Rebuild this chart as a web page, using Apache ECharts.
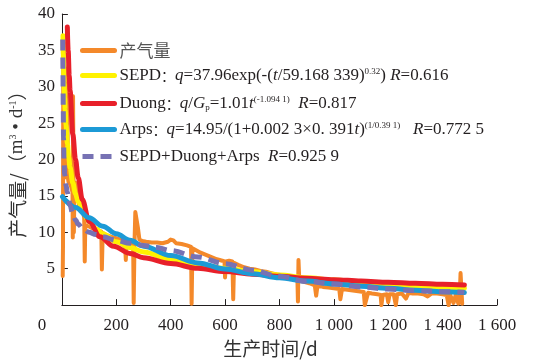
<!DOCTYPE html>
<html>
<head>
<meta charset="utf-8">
<script src="https://cdn.jsdelivr.net/npm/echarts@6/dist/echarts.min.js"></script>
<style>html,body{margin:0;padding:0;background:#fff}#c{width:548px;height:363px}</style>
</head>
<body>
<div id="c"></div>
<script>
// Measured production (days, rate)
const prodDays = [3,4,5,6,7,8,9,10,11,12,13,14,16,18,20,22,24,28,32,36,39,40,41,43,44,46,50,55,60,63,70,78,82,84,86,92,100,110,120,132,145,147,150,165,180,200,215,232,235,238,250,262,264,267,270,276,280,285,295,310,330,350,370,390,400,410,420,440,460,475,477,480,495,510,530,550,570,590,598,600,603,615,627,630,633,650,670,690,710,730,750,770,790,810,830,850,866,868,870,873,890,910,930,935,940,960,980,1000,1020,1024,1030,1050,1070,1090,1110,1114,1120,1126,1140,1160,1172,1175,1180,1195,1200,1205,1220,1228,1233,1250,1265,1275,1290,1310,1330,1345,1360,1380,1400,1415,1422,1428,1440,1448,1458,1463,1466,1470,1472];
const prodRate = [4,8,34,22,36,20,33,19,30,18,27,18,25,17.5,32.5,17.5,17,16.8,16.5,16,15.5,9.3,28.7,28.5,10,15.5,16.8,16.6,16.2,13.6,13.3,12.8,12,6,11,10.9,10.8,10.6,10.5,10.3,10.1,4.9,9.9,9.6,9.4,9.2,9.0,8.8,6.2,8.7,8.6,8.5,0.3,8.5,12.8,12.6,10.5,9,8.8,8.7,8.6,8.6,8.5,8.7,9.0,8.9,8.5,8.4,8.2,8.0,0.2,7.8,7.5,7.2,6.9,6.6,6.3,6.1,6.0,3.8,6.0,6.1,6.0,0.8,5.8,5.5,5.2,5.0,4.9,4.7,4.6,4.4,4.2,4.1,3.9,3.8,3.6,0.5,6.2,3.4,3.2,3.0,2.7,1.3,2.7,2.5,2.4,2.3,2.2,0.8,2.2,2.1,2.0,1.9,1.8,0,0.2,1.7,1.6,1.5,1.4,0,1.4,1.5,0.4,1.5,1.5,0,1.5,1.6,0.9,1.7,1.6,1.6,1.5,1.2,1.6,1.6,1.5,1.4,0,1.4,0.3,1.4,0.2,1.3,4.4,4.3,0.2];

// Fitted curves (days, rate)
const sepdDays = [4,5,8,10,12,15,20,25,30,40,50,60,80,100,125,150,200,250,300,400,500,600,700,800,900,1000,1100,1200,1300,1400,1480];
const sepdRate = [37,34.5,30.5,28.5,26.8,24.8,22.2,20.3,18.9,16.8,15.3,14.2,12.6,11.5,10.5,9.8,8.7,7.9,7.3,6.3,5.6,5.05,4.6,4.15,3.75,3.45,3.15,2.9,2.65,2.45,2.3];

const duongDays = [20,23,27,30,40,50,60,75,100,140,190,250,300,400,500,600,700,800,900,1000,1100,1200,1300,1400,1480];
const duongRate = [38.2,35,31.5,29.5,23.5,20,17.5,14.5,11.5,9.4,8.1,7.1,6.5,5.7,5.05,4.6,4.25,3.95,3.7,3.5,3.3,3.15,3.0,2.85,2.75];

const arpsDays = [2,50,100,150,200,250,300,400,500,600,700,800,900,1000,1100,1200,1300,1400,1480];
const arpsRate = [14.9,13.4,12.0,10.85,9.8,8.9,8.1,6.8,5.8,4.95,4.3,3.75,3.3,2.9,2.6,2.3,2.05,1.85,1.72];

const comboDays = [3,4,5,6,8,10,15,20,25,30,40,50,60,80,100,125,150,200,250,300,350,400,500,600,700,800,900,1000,1100,1200,1300,1400,1480];
const comboRate = [36.5,32,27,23,19.5,18,16.5,15.5,14.5,13.7,12.5,11.7,11.1,10.4,10.0,9.7,9.4,8.9,8.5,8.2,7.9,7.5,6.6,5.7,4.8,3.95,3.25,2.9,2.5,2.2,2.0,1.85,1.75];

// Axis ticks
const xTicks = [0,200,400,600,800,1000,1200,1400,1600];
const yTicks = [0,5,10,15,20,25,30,35,40];

const seriesNames = ['产气量','SEPD','Duong','Arps','SEPD+Duong+Arps'];
const colors = ['#F4892A','#FFF200','#E8202A','#1C9AD6','#7772B4'];

function pairs(a,b){return a.map((d,i)=>[d,b[i]]);}

const SERIF = 'Liberation Serif';
const CJK = 'Noto Sans CJK SC';
const TXT = '#231F20';
const richLegend = {
  t:{fontFamily:SERIF,fontSize:17,color:TXT},
  k:{fontFamily:CJK,fontSize:14,color:TXT},
  i:{fontFamily:SERIF,fontSize:17,fontStyle:'italic',color:TXT},
  s:{fontFamily:SERIF,fontSize:9,color:TXT,verticalAlign:'top'},
  b:{fontFamily:SERIF,fontSize:9,color:TXT,verticalAlign:'bottom'},
  c:{fontFamily:CJK,fontSize:17,color:'#555'}
};
const legendText = {
  '产气量':'{c|产气量}',
  'SEPD':'{t|SEPD}{k|：}{i|q}{t|=37.96exp(-(}{i|t}{t|/59.168 339)}{s|0.32}{t|) }{i|R}{t|=0.616}',
  'Duong':'{t|Duong}{k|：}{i|q}{t|/}{i|G}{b|p}{t|=1.01}{i|t}{s|(-1.094 1)}{t|  }{i|R}{t|=0.817}',
  'Arps':'{t|Arps}{k|：}{i|q}{t|=14.95/(1+0.002 3×0. 391}{i|t}{t|)}{s|(1/0.39 1)}{t|   }{i|R}{t|=0.772 5}',
  'SEPD+Duong+Arps':'{t|SEPD+Duong+Arps  }{i|R}{t|=0.925 9}'
};
const legendTops = [42,67,95,121,148];

const chart = echarts.init(document.getElementById('c'), null, {renderer:'canvas'});
const legends = seriesNames.map((n,k)=>({
  data:[n], left:80, top:legendTops[k], itemWidth:32, itemHeight:14, padding:0,
  selectedMode:false,
  itemStyle:{opacity:0},
  lineStyle:{width:5,opacity:1},
  formatter:(name)=>legendText[name],
  textStyle:{fontFamily:SERIF,fontSize:17,color:TXT,rich:richLegend}
}));

const lineW = [4,5,5,5,5];
const dataSets = [pairs(prodDays,prodRate),pairs(sepdDays,sepdRate),pairs(duongDays,duongRate),pairs(arpsDays,arpsRate),pairs(comboDays,comboRate)];

chart.setOption({
  animation:false,
  grid:{left:55,right:51,top:14,bottom:56},
  legend:legends,
  xAxis:{
    type:'value',min:xTicks[0],max:xTicks[xTicks.length-1],interval:200,
    name:'生产时间/d',nameLocation:'middle',nameGap:31,
    nameTextStyle:{fontFamily:CJK,fontSize:19,color:'#333',padding:[0,18,0,0]},
    axisLine:{lineStyle:{color:'#231F20',width:1}},
    axisTick:{inside:true,length:6,lineStyle:{color:'#231F20'}},
    splitLine:{show:false},
    axisLabel:{margin:12,fontFamily:SERIF,fontSize:17,color:TXT,
      formatter:(v)=>v===0?'{z|0}':(v>=1000?Math.floor(v/1000)+' '+String(v%1000).padStart(3,'0'):String(v)),
      rich:{z:{fontFamily:SERIF,fontSize:17,color:TXT,padding:[0,40,0,0]}}}
  },
  yAxis:{
    type:'value',min:yTicks[0],max:yTicks[yTicks.length-1],interval:5,
    name:'{a|产气量/（}{m|m}{s|3}{m| • d}{s|-1}{a|）}',nameLocation:'middle',nameGap:29,
    nameTextStyle:{rich:{
      a:{fontFamily:CJK,fontSize:19,color:'#333'},
      m:{fontFamily:SERIF,fontSize:19,color:'#333'},
      s:{fontFamily:SERIF,fontSize:10,color:'#333',verticalAlign:'top'}}},
    axisLine:{show:true,lineStyle:{color:'#231F20',width:1}},
    axisTick:{show:true,inside:true,length:6,lineStyle:{color:'#231F20'}},
    splitLine:{show:false},
    axisLabel:{margin:7,fontFamily:SERIF,fontSize:17,color:TXT,formatter:(v)=>v===0?'':String(v)}
  },
  series:seriesNames.map((n,k)=>({
    name:n,type:'line',data:dataSets[k],showSymbol:false,symbol:'none',
    smooth:k===0?false:0.35,smoothMonotone:'x',
    lineStyle:{color:colors[k],width:lineW[k],type:k===4?[11,7]:'solid',cap:k===4?'butt':'round',join:'round'},
    itemStyle:{color:colors[k]},
    z:2+k
  }))
});
</script>
</body>
</html>
